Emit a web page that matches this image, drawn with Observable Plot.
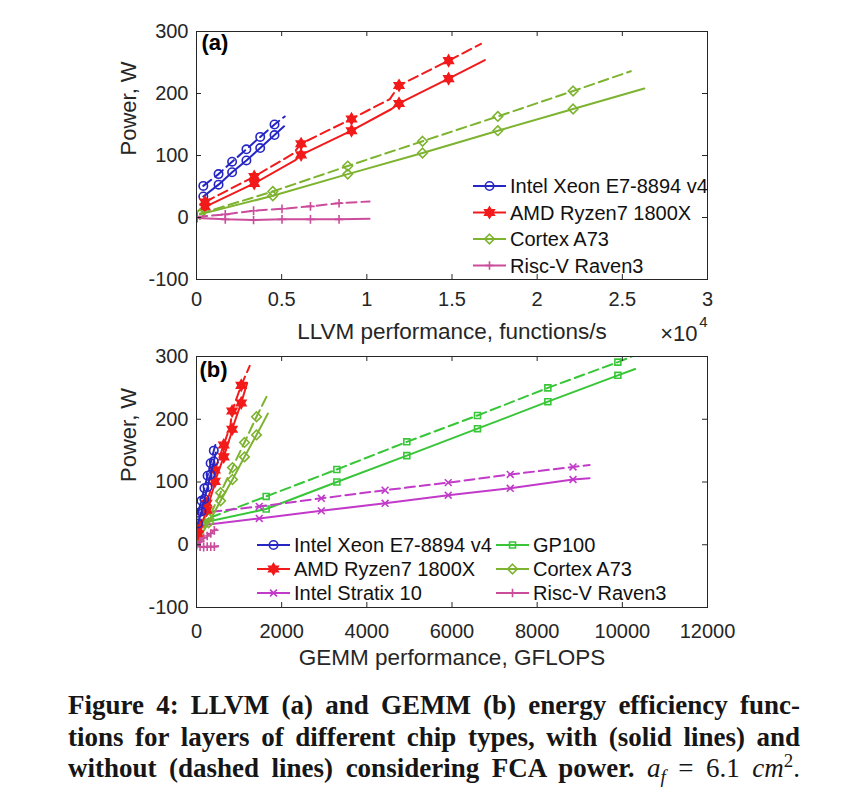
<!DOCTYPE html>
<html><head><meta charset="utf-8">
<script src="https://cdn.jsdelivr.net/npm/d3@7"></script>
<script src="https://cdn.jsdelivr.net/npm/@observablehq/plot@0.6"></script>
<style>
html,body{margin:0;padding:0;background:#fff;overflow:hidden;}
#wrap{position:relative;width:864px;height:796px;overflow:hidden;background:#fff;}
#wrap svg{display:block;}
#wrap svg.panelB{margin-top:-20px;position:relative;}
#cap{position:absolute;left:68px;top:690px;width:732px;font-family:"Liberation Serif","Times New Roman",serif;font-weight:bold;font-size:27px;line-height:31.5px;color:#161616;}
#cap div{text-align:justify;text-align-last:justify;}
#cap .m{font-weight:normal;}
#cap sub,#cap sup{line-height:0;font-size:70%;}
</style></head><body><div id="wrap"></div>
<script>
// ---------------- data: panel (a) LLVM performance (functions/s) vs power (W)
// each list: marker points, last point = end of the line
const xeonA_solid  = [[400,34],[1295,53],[2090,73],[2930,92],[3740,112],[4580,133],[5140,147]];
const xeonA_dashed = [[400,51],[1295,70],[2090,90],[2930,110],[3740,130],[4580,150],[5180,163]];
const amdA_solid   = [[500,17],[3390,55],[6140,101],[9100,140],[11890,184],[14800,224],[16930,254]];
const amdA_solid_bends  = [[5780,92],[11450,175]];
const amdA_dashed  = [[500,25],[3390,66],[6140,119],[9100,159],[11890,213],[14800,253],[16700,280]];
const amdA_dashed_bends = [[5680,103],[11350,191]];
const a73A_solid   = [[200,5],[4480,35],[8880,70],[13270,104],[17690,140],[22110,175],[26290,208]];
const a73A_dashed  = [[200,6],[4480,42],[8880,83],[13270,123],[17690,163],[22110,204],[25500,236]];
const riscA_solid  = [[40,-1],[1690,-3],[3350,-4],[5020,-3],[6690,-3],[8370,-3],[10160,-2]];
const riscA_dashed = [[40,1],[1690,5],[3350,11],[5020,14],[6690,18],[8370,23],[10160,26]];

// ---------------- data: panel (b) GEMM performance (GFLOPS) vs power (W)
const xeonB_solid  = [[35,34],[115,53],[185,73],[260,92],[331,112],[406,133],[455,147]];
const xeonB_dashed = [[35,51],[115,70],[185,90],[260,110],[331,130],[406,150],[459,163]];
const amdB_solid   = [[35,17],[238,55],[432,101],[640,140],[836,184],[1050,226],[1190,258]];
const amdB_solid_bends  = [[406,92],[805,175]];
const amdB_dashed  = [[35,25],[238,66],[432,119],[640,159],[836,213],[1050,254],[1250,285]];
const amdB_dashed_bends = [[399,103],[798,191]];
const a73B_solid   = [[13,5],[285,35],[566,70],[845,104],[1127,140],[1409,175],[1676,209]];
const a73B_dashed  = [[13,6],[285,42],[566,83],[845,123],[1127,163],[1409,204],[1660,238]];
const riscB_solid  = [[2,-1],[85,-3],[168,-4],[251,-3],[335,-3],[419,-3],[508,-2]];
const riscB_dashed = [[2,1],[85,5],[168,11],[251,14],[335,18],[419,23],[508,26]];
const gpB_solid    = [[0,33],[1636,57],[3296,100],[4939,142],[6599,185],[8251,228],[9895,270],[10300,280]];
const gpB_dashed   = [[0,35],[1636,77],[3296,120],[4939,164],[6599,206],[8251,250],[9895,291],[10220,300]];
const stxB_solid   = [[0,30],[1474,42],[2931,54],[4429,66],[5911,79],[7368,90],[8842,104],[9231,106]];
const stxB_dashed  = [[0,50],[1474,61],[2931,74],[4429,87],[5911,99],[7368,112],[8842,124],[9231,127]];

// ---------------- labels and ticks
const legendA = ["Intel Xeon E7-8894 v4", "AMD Ryzen7 1800X", "Cortex A73", "Risc-V Raven3"];
const legendB1 = ["Intel Xeon E7-8894 v4", "AMD Ryzen7 1800X", "Intel Stratix 10"];
const legendB2 = ["GP100", "Cortex A73", "Risc-V Raven3"];
const xTicksA = [0, 5000, 10000, 15000, 20000, 25000, 30000];
const xTicksB = [0, 2000, 4000, 6000, 8000, 10000, 12000];
const yTicks = [-100, 0, 100, 200, 300];
const xLabelA = "LLVM performance, functions/s";
const xLabelB = "GEMM performance, GFLOPS";
const yLabel = "Power, W";

// ---------------- styles
const TXT = "#262626";
const FONT = "'Liberation Sans', Arial, Helvetica, sans-serif";
const hexagram = {
  draw(ctx, size) {
    const R = Math.sqrt(size / Math.PI) * 1.3, r = R / Math.sqrt(3);
    for (let i = 0; i < 12; i++) {
      const a = -Math.PI / 2 + i * Math.PI / 6, rad = i % 2 ? r : R;
      const x = rad * Math.cos(a), y = rad * Math.sin(a);
      i ? ctx.lineTo(x, y) : ctx.moveTo(x, y);
    }
    ctx.closePath();
  }
};
const timesSym = d3.symbolTimes || d3.symbolX;
const ST = {
  xeon: {color: "#2626C4", symbol: d3.symbolCircle, r: 4.2, fill: false},
  amd:  {color: "#F21A1A", symbol: hexagram, r: 4.2, fill: true},
  a73:  {color: "#7DB32F", symbol: d3.symbolDiamond2, r: 4.3, fill: false},
  risc: {color: "#CC4C9C", symbol: d3.symbolPlus, r: 2.9, fill: false},
  gp:   {color: "#38C638", symbol: d3.symbolSquare2, r: 3.8, fill: false},
  stx:  {color: "#C23AC9", symbol: timesSym, r: 3.2, fill: false}
};

function seriesMarks(pts, bends, st, dashed) {
  const linePts = bends ? [...pts, ...bends].sort((a, b) => a[0] - b[0]) : pts;
  const markerPts = pts.slice(0, -1);
  return [
    Plot.line(linePts, {x: d => d[0], y: d => d[1], stroke: st.color, strokeWidth: 2,
      strokeDasharray: dashed ? "10,5" : undefined, clip: true}),
    Plot.dot(markerPts, {x: d => d[0], y: d => d[1], symbol: st.symbol, r: st.r,
      stroke: st.color, fill: st.fill ? st.color : "none", strokeWidth: 1.6, clip: true})
  ];
}

// box axes with inward ticks on all four sides (frame size in px: fw x fh)
function axes(xTicks, fmt, xPad, fw, fh) {
  const T = 5;
  return [
    Plot.axisX({ticks: xTicks, anchor: "bottom", tickSize: 0, tickPadding: xPad, tickFormat: fmt,
      fontSize: 20, color: TXT, label: null}),
    Plot.axisY({ticks: yTicks, anchor: "left", tickSize: 0, tickPadding: 8, tickFormat: d => String(d),
      fontSize: 20, color: TXT, label: null}),
    Plot.tickX(xTicks, {x: d => d, stroke: TXT, insetTop: fh - T}),
    Plot.tickX(xTicks, {x: d => d, stroke: TXT, insetBottom: fh - T}),
    Plot.tickY(yTicks, {y: d => d, stroke: TXT, insetRight: fw - T}),
    Plot.tickY(yTicks, {y: d => d, stroke: TXT, insetLeft: fw - T}),
    Plot.frame({stroke: TXT, strokeWidth: 1})
  ];
}

function drawLegend(svg, names, styles, x0, y0, dyRow, textGap) {
  const g = d3.select(svg).append("g").attr("text-anchor", "start");
  names.forEach((name, i) => {
    const st = styles[i], y = y0 + i * dyRow;
    g.append("line").attr("x1", x0).attr("x2", x0 + 33).attr("y1", y).attr("y2", y)
      .attr("stroke", st.color).attr("stroke-width", 2);
    g.append("path").attr("d", d3.symbol().type(st.symbol).size(Math.PI * st.r * st.r)())
      .attr("transform", `translate(${x0 + 16.5},${y})`)
      .attr("stroke", st.color).attr("stroke-width", 1.6).attr("fill", st.fill ? st.color : "none");
    g.append("text").attr("x", x0 + 33 + textGap).attr("y", y).attr("dy", "0.36em")
      .attr("text-anchor", "start")
      .attr("font-family", FONT).attr("font-size", 20).attr("fill", "#111").text(name);
  });
}

const wrap = document.getElementById("wrap");

// ---------------- panel (a)
const plotA = Plot.plot({
  width: 864, height: 350,
  marginTop: 31, marginBottom: 71, marginLeft: 196, marginRight: 157,
  style: {fontFamily: FONT, fontSize: "20px", color: TXT, background: "#fff"},
  x: {domain: [0, 30000]},
  y: {domain: [-100, 300]},
  marks: [
    ...seriesMarks(xeonA_solid, null, ST.xeon, false),
    ...seriesMarks(xeonA_dashed, null, ST.xeon, true),
    ...seriesMarks(amdA_solid, amdA_solid_bends, ST.amd, false),
    ...seriesMarks(amdA_dashed, amdA_dashed_bends, ST.amd, true),
    ...seriesMarks(a73A_solid, null, ST.a73, false),
    ...seriesMarks(a73A_dashed, null, ST.a73, true),
    ...seriesMarks(riscA_solid, null, ST.risc, false),
    ...seriesMarks(riscA_dashed, null, ST.risc, true),
    ...axes(xTicksA, d => String(d / 1e4), 12, 511, 248),
    Plot.text([xLabelA], {frameAnchor: "bottom", text: d => d, dy: 52, fontSize: 22.5, fill: TXT, lineAnchor: "middle"}),
    Plot.text(["×10"], {frameAnchor: "bottom-right", text: d => d, dx: -10, dy: 54, fontSize: 22, fill: TXT, textAnchor: "end", lineAnchor: "middle"}),
    Plot.text(["4"], {frameAnchor: "bottom-right", text: d => d, dx: 0, dy: 43, fontSize: 15, fill: TXT, textAnchor: "end", lineAnchor: "middle"}),
    Plot.text([yLabel], {frameAnchor: "left", text: d => d, rotate: -90, dx: -68, fontSize: 22, fill: TXT, lineAnchor: "middle"}),
    Plot.text(["(a)"], {frameAnchor: "top-left", text: d => d, dx: 5, dy: 3, fontSize: 22, fontWeight: "bold", fill: "#000", textAnchor: "start", lineAnchor: "top"})
  ]
});
drawLegend(plotA, legendA, [ST.xeon, ST.amd, ST.a73, ST.risc], 473, 186, 26.5, 4);
wrap.appendChild(plotA);

// ---------------- panel (b)  (svg starts at page y = 330, overlapping (a) with a transparent background)
const plotB = Plot.plot({
  width: 864, height: 350,
  marginTop: 26, marginBottom: 73, marginLeft: 196, marginRight: 157,
  className: "panelB",
  style: {fontFamily: FONT, fontSize: "20px", color: TXT, background: "transparent"},
  x: {domain: [0, 12000]},
  y: {domain: [-100, 300]},
  marks: [
    ...seriesMarks(gpB_solid, null, ST.gp, false),
    ...seriesMarks(gpB_dashed, null, ST.gp, true),
    ...seriesMarks(stxB_solid, null, ST.stx, false),
    ...seriesMarks(stxB_dashed, null, ST.stx, true),
    ...seriesMarks(a73B_solid, null, ST.a73, false),
    ...seriesMarks(a73B_dashed, null, ST.a73, true),
    ...seriesMarks(amdB_solid, amdB_solid_bends, ST.amd, false),
    ...seriesMarks(amdB_dashed, amdB_dashed_bends, ST.amd, true),
    ...seriesMarks(xeonB_solid, null, ST.xeon, false),
    ...seriesMarks(xeonB_dashed, null, ST.xeon, true),
    ...seriesMarks(riscB_solid, null, ST.risc, false),
    ...seriesMarks(riscB_dashed, null, ST.risc, true),
    ...axes(xTicksB, d => String(d), 16, 511, 251),
    Plot.text([xLabelB], {frameAnchor: "bottom", text: d => d, dy: 50, fontSize: 22.5, fill: TXT, lineAnchor: "middle"}),
    Plot.text([yLabel], {frameAnchor: "left", text: d => d, rotate: -90, dx: -68, fontSize: 22, fill: TXT, lineAnchor: "middle"}),
    Plot.text(["(b)"], {frameAnchor: "top-left", text: d => d, dx: 3, dy: 5, fontSize: 22, fontWeight: "bold", fill: "#000", textAnchor: "start", lineAnchor: "top"})
  ]
});
plotB.classList.add("panelB");
drawLegend(plotB, legendB1, [ST.xeon, ST.amd, ST.stx], 257, 215, 24, 4);
drawLegend(plotB, legendB2, [ST.gp, ST.a73, ST.risc], 496, 215, 24, 4);
wrap.appendChild(plotB);

// ---------------- caption
const cap = document.createElement("div");
cap.id = "cap";
cap.innerHTML =
  '<div>Figure 4: LLVM (a) and GEMM (b) energy efficiency func-</div>' +
  '<div>tions for layers of different chip types, with (solid lines) and</div>' +
  '<div>without (dashed lines) considering FCA power. <span class="m"><i>a</i><sub><i>f</i></sub> = 6.1 <i>cm</i><sup>2</sup>.</span></div>';
wrap.appendChild(cap);
</script></body></html>
